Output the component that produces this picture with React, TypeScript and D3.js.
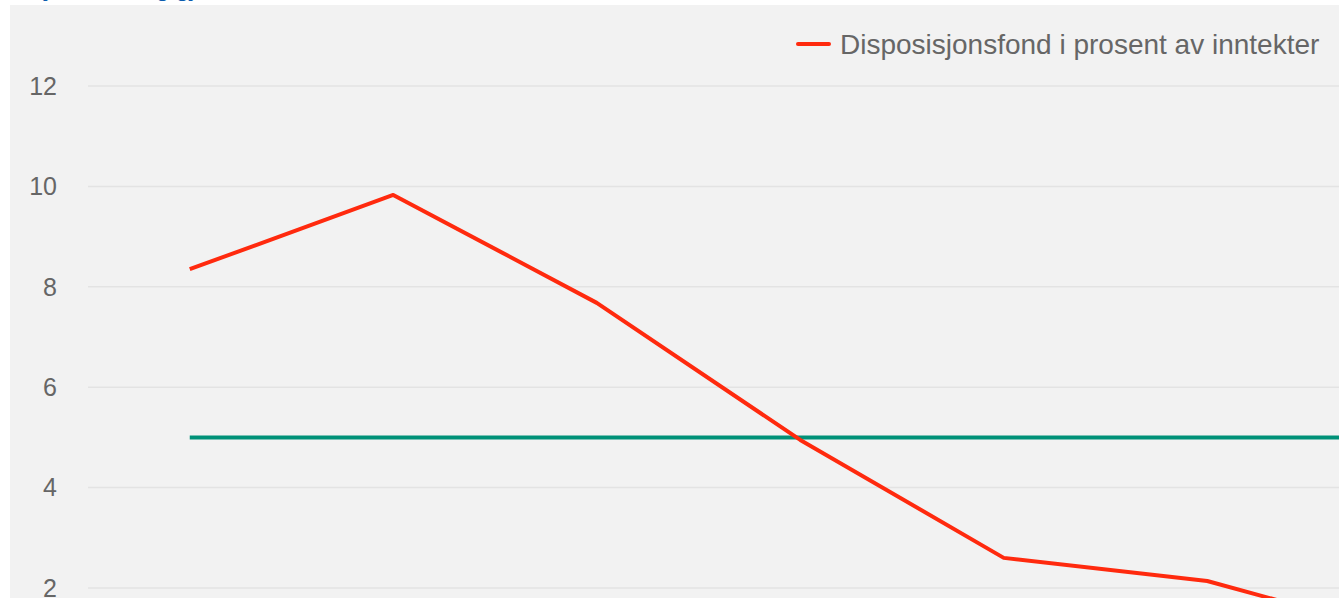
import React from "react";
import * as d3 from "d3";

const years = ["2017", "2018", "2019", "2020", "2021", "2022", "2023"];
const fondPct = [8.35, 9.83, 7.68, 4.95, 2.6, 2.14, 1.03];
const anbefalt = [5, 5, 5, 5, 5, 5, 5];
const yTicks = [0, 2, 4, 6, 8, 10, 12];
const seriesNames = ["Disposisjonsfond i prosent av inntekter", "Anbefalt nivå"];

const W = 1339;
const H = 598;
const FONT = "'Liberation Sans', Arial, sans-serif";

export default function App() {
  const plotLeft = 88;
  const band = 203.5;
  const x = d3
    .scaleBand<string>()
    .domain(years)
    .range([plotLeft, plotLeft + band * years.length])
    .padding(0);
  const cx = (d: string) => (x(d) as number) + x.bandwidth() / 2;
  const y = d3.scaleLinear().domain([0, 12]).range([688.4, 86]);

  const line = d3
    .line<number>()
    .x((_, i) => cx(years[i]))
    .y((v) => y(v));

  return (
    <div style={{ position: "fixed", left: 0, top: 0, width: W, height: H, overflow: "hidden", background: "#fff" }}>
      <svg width={W} height={H} style={{ display: "block" }}>
        <text x={-48} y={-4} fill="#0b5cad" fontFamily={FONT} fontWeight="bold" fontSize={22}>
          Disposisjonsfond og gjeld
        </text>
        <rect x={10} y={5} width={1600} height={800} fill="#f2f2f2" />
        {yTicks.map((t) => (
          <g key={t}>
            <line x1={plotLeft} x2={plotLeft + band * years.length} y1={y(t)} y2={y(t)} stroke="#e3e3e3" strokeWidth={1.5} />
            <text x={57} y={y(t)} dy="0.35em" textAnchor="end" fill="#666" fontFamily={FONT} fontSize={25}>
              {t}
            </text>
          </g>
        ))}
        {years.map((yr) => (
          <text key={yr} x={cx(yr)} y={y(0) + 40} textAnchor="middle" fill="#666" fontFamily={FONT} fontSize={24}>
            {yr}
          </text>
        ))}
        <path d={line(anbefalt) || ""} fill="none" stroke="#009178" strokeWidth={4} />
        <path d={line(fondPct) || ""} fill="none" stroke="#ff2a0e" strokeWidth={4} strokeLinejoin="round" />
        <g>
          <line x1={798} x2={829} y1={44} y2={44} stroke="#ff2a0e" strokeWidth={4} strokeLinecap="round" />
          <text x={840} y={44} dy="0.35em" fill="#666" fontFamily={FONT} fontSize={28}>
            {seriesNames[0]}
          </text>
          <line x1={1360} x2={1391} y1={44} y2={44} stroke="#009178" strokeWidth={4} />
          <text x={1402} y={44} dy="0.35em" fill="#666" fontFamily={FONT} fontSize={28}>
            {seriesNames[1]}
          </text>
        </g>
      </svg>
    </div>
  );
}
